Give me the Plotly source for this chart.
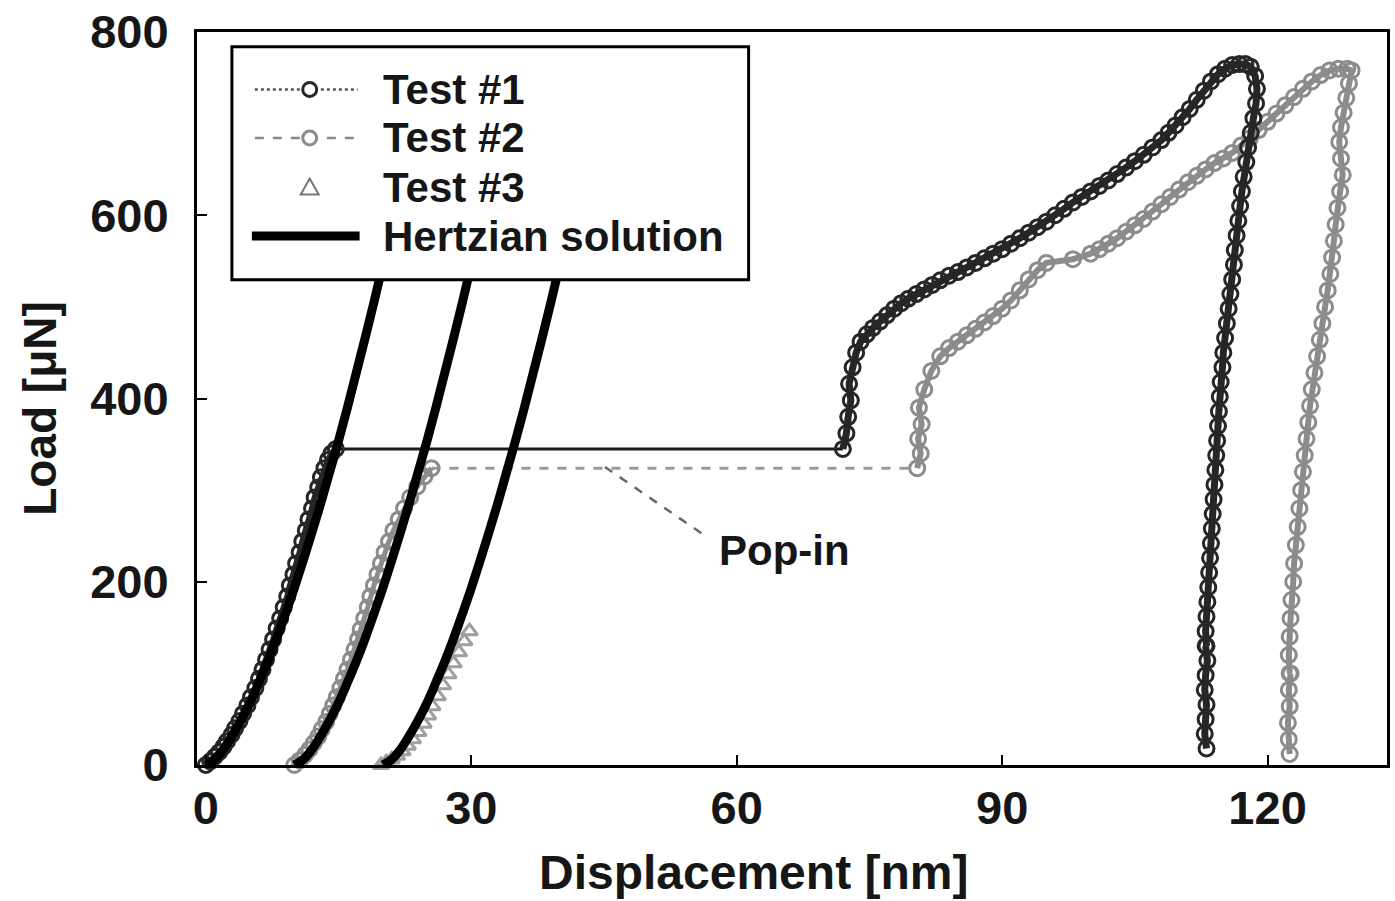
import plotly.graph_objects as go

# ---------------- data ----------------
# Test #1 : loading branch up to the pop-in
t1_load_disp = [0.0, 0.5, 1.0, 1.5, 2.0, 2.4, 2.9, 3.3, 3.8, 4.2, 4.7, 5.1, 5.6, 6.0, 6.4, 6.8, 7.2, 7.6,
                8.0, 8.4, 8.8, 9.2, 9.5, 9.9, 10.2, 10.6, 10.9, 11.3, 11.6, 12.0, 12.3, 12.7, 13.0,
                13.4, 13.8, 14.2, 14.7]
t1_load_load = [0, 4, 9, 14, 20, 26, 33, 40, 48, 56, 65, 74, 84, 94, 104, 115, 126, 137,
                149, 160, 172, 184, 196, 208, 220, 232, 244, 256, 268, 280, 292, 303, 314,
                324, 333, 340, 345]
# Test #1 : after the pop-in (re-loading, peak and unloading)
t1_after_disp = [72.0, 72.4, 72.6, 72.9, 72.7, 73.1, 73.5, 74.0, 74.7, 75.4, 76.2, 77.0, 77.8, 78.6,
                 79.4, 80.3, 81.2, 82.1, 83.0, 84.0, 85.0, 86.0, 87.0, 88.0, 89.0, 90.0, 91.0,
                 92.0, 93.0, 94.0, 95.0, 96.0, 97.0, 98.0, 99.0, 100.0, 101.0, 102.0, 103.0, 104.0,
                 105.0, 106.0, 107.0, 108.0, 108.8, 109.6, 110.4, 111.2, 112.0, 112.8, 113.6, 114.4,
                 115.2, 116.0, 116.8, 117.5, 118.1, 118.6, 118.8, 118.7, 118.4, 118.1, 117.8, 117.6,
                 117.3, 117.1, 116.9, 116.7, 116.5, 116.3, 116.2, 116.0, 115.8, 115.6, 115.4, 115.2,
                 115.0, 114.9, 114.7, 114.6, 114.5, 114.4, 114.3, 114.2, 114.1, 114.0, 113.9, 113.8,
                 113.7, 113.6, 113.5, 113.4, 113.3, 113.2, 113.1, 113.0, 113.1]
t1_after_load = [345, 362, 380, 398, 416, 434, 450, 462, 470, 477, 484, 491, 498, 504,
                 509, 514, 519, 524, 529, 534, 538, 543, 548, 553, 558, 563, 569,
                 575, 581, 587, 593, 600, 607, 614, 620, 626, 632, 638, 645, 652,
                 659, 666, 674, 682, 690, 698, 707, 716, 726, 736, 746, 754,
                 760, 764, 765, 765, 762, 752, 738, 722, 706, 690, 674, 658,
                 642, 626, 610, 594, 578, 562, 546, 530, 514, 498, 482, 466,
                 450, 434, 418, 402, 386, 370, 354, 338, 322, 306, 290, 274,
                 258, 242, 226, 210, 194, 178, 162, 146, 130]
t1_tail_disp = [113.0, 113.2, 113.0, 112.9, 113.1, 113.0, 112.9, 113.1]
t1_tail_load = [130, 114, 98, 82, 66, 50, 34, 18]

# Test #2 : loading branch up to the pop-in
t2_load_disp = [10.0, 10.6, 11.2, 11.7, 12.2, 12.7, 13.1, 13.6, 14.0, 14.4, 14.8, 15.2, 15.6, 16.0,
                16.4, 16.8, 17.2, 17.5, 17.9, 18.3, 18.6, 19.0, 19.4, 19.8, 20.2, 20.7, 21.2,
                21.8, 22.4, 23.1, 23.9, 24.7, 25.5]
t2_load_load = [0, 5, 11, 17, 24, 31, 39, 47, 56, 65, 74, 84, 94, 104,
                115, 126, 137, 148, 160, 172, 184, 196, 208, 220, 232, 244, 256,
                268, 280, 292, 304, 315, 324]
# Test #2 : after the pop-in
t2_after_disp = [80.4, 80.8, 80.5, 80.9, 80.6, 81.2, 82.0, 83.0, 84.0, 85.0, 86.0, 87.0, 88.0, 89.0,
                 90.0, 91.0, 92.0, 93.0, 94.0, 95.0, 98.0, 100.0, 101.0, 102.0, 103.0, 104.0,
                 105.0, 106.0, 107.0, 108.0, 109.0, 110.0, 111.0, 112.0, 113.0, 114.0, 115.0,
                 116.0, 117.0, 118.0, 119.0, 120.0, 121.0, 122.0, 123.0, 124.0, 125.0, 126.0,
                 127.0, 128.0, 129.0, 129.5, 129.2, 128.9, 128.6, 128.3, 128.1, 128.3, 128.5,
                 128.2, 127.9, 127.7, 127.5, 127.3, 127.1, 126.8, 126.5, 126.2, 125.9, 125.6,
                 125.3, 125.0, 124.8, 124.6, 124.4, 124.2, 124.0, 123.8, 123.6, 123.4, 123.2,
                 123.0, 122.9, 122.7, 122.6, 122.5, 122.4, 122.5]
t2_after_load = [324, 340, 356, 372, 390, 410, 430, 446, 455, 462, 469, 476, 483, 490,
                 498, 507, 518, 530, 540, 548, 552, 558, 563, 569, 575, 582,
                 589, 596, 604, 612, 620, 628, 636, 643, 650, 657, 662,
                 668, 676, 684, 693, 702, 711, 720, 729, 738, 746, 753,
                 758, 760, 760, 758, 744, 728, 712, 696, 680, 662, 644,
                 626, 608, 590, 572, 554, 536, 518, 500, 482, 464, 446,
                 428, 410, 392, 374, 356, 338, 320, 300, 280, 260, 240,
                 220, 200, 180, 160, 140, 120, 100]
t2_tail_disp = [122.6, 122.4, 122.5, 122.3, 122.4, 122.5]
t2_tail_load = [100, 82, 64, 46, 28, 12]

# Test #3 : loading only
t3_disp = [19.8, 20.4, 21.0, 21.6, 22.2, 22.8, 23.4, 24.0, 24.6, 25.1, 25.6, 26.2, 26.8,
           27.4, 28.0, 28.6, 29.2, 29.8]
t3_load = [0, 3, 6, 10, 15, 21, 28, 36, 45, 54, 64, 75, 87, 99, 111, 123, 135, 146]

# Hertzian solution curves (three offsets)
hz1_disp = [0, 1, 2, 3, 4, 5, 6, 7, 8, 9, 10, 11, 12, 13, 14, 15, 16, 17, 18, 19, 20, 21, 22]
hz1_load = [0, 6, 17, 32, 49, 68, 90, 113, 138, 165, 193, 223, 254, 286, 320, 354, 390, 428,
            466, 505, 546, 587, 630]
hz2_disp = [10, 11, 12, 13, 14, 15, 16, 17, 18, 19, 20, 21, 22, 23, 24, 25, 26, 27, 28, 29, 30, 31, 32]
hz2_load = hz1_load
hz3_disp = [20, 21, 22, 23, 24, 25, 26, 27, 28, 29, 30, 31, 32, 33, 34, 35, 36, 37, 38, 39, 40, 41, 42]
hz3_load = hz1_load

x_ticks = [0, 30, 60, 90, 120]
y_ticks = [0, 200, 400, 600, 800]
legend_names = ["Test #1", "Test #2", "Test #3", "Hertzian solution"]

# ---------------- style ----------------
FONT = "Liberation Sans, Arial, sans-serif"
TXT = "#161616"
C1 = "#262626"
C2 = "#8c8c8c"
C3 = "#a0a0a0"

fig = go.Figure()

# pop-in connectors (thin)
fig.add_trace(go.Scatter(x=[t1_load_disp[-1], t1_after_disp[0]], y=[t1_load_load[-1], t1_after_load[0]],
                         mode="lines", line=dict(color="#1a1a1a", width=3), showlegend=False))
fig.add_trace(go.Scatter(x=[t2_load_disp[-1], t2_after_disp[0]], y=[t2_load_load[-1], t2_after_load[0]],
                         mode="lines", line=dict(color="#9a9a9a", width=3, dash="dash"), showlegend=False))

def marker_trace(xs, ys, color, lw):
    return go.Scatter(x=xs, y=ys, mode="lines+markers", cliponaxis=False, showlegend=False,
                      line=dict(color=color, width=lw),
                      marker=dict(symbol="circle-open", size=15, color=color, line=dict(width=3, color=color)))

fig.add_trace(marker_trace(t2_load_disp, t2_load_load, C2, 5))
fig.add_trace(marker_trace(t2_after_disp, t2_after_load, C2, 6))
fig.add_trace(marker_trace(t2_tail_disp, t2_tail_load, C2, 6))
fig.add_trace(marker_trace(t1_load_disp, t1_load_load, C1, 6))
fig.add_trace(marker_trace(t1_after_disp, t1_after_load, C1, 7))
fig.add_trace(marker_trace(t1_tail_disp, t1_tail_load, C1, 7))
fig.add_trace(go.Scatter(x=t3_disp, y=t3_load, mode="markers", cliponaxis=False, showlegend=False,
                         marker=dict(symbol="triangle-up-open", size=14, color=C3, line=dict(width=3, color=C3))))

for hx, hy in [(hz1_disp, hz1_load), (hz2_disp, hz2_load), (hz3_disp, hz3_load)]:
    fig.add_trace(go.Scatter(x=hx, y=hy, mode="lines", line=dict(color="black", width=9, shape="spline"),
                             showlegend=False, cliponaxis=False))

# ---------------- manual legend (paper coordinates) ----------------
PL, PR, PT, PB = 197, 1390, 25, 765
def px(x):
    return (x - PL) / (PR - PL)
def py(y):
    return (PB - y) / (PB - PT)

shapes = []
shapes.append(dict(type="rect", xref="paper", yref="paper", x0=px(232), x1=px(750), y0=py(275), y1=py(40),
                   line=dict(color="black", width=3), fillcolor="white", layer="above"))
rows = [83, 132, 182, 231]
# Test 1 symbol
shapes.append(dict(type="line", xref="paper", yref="paper", x0=px(255), x1=px(358), y0=py(rows[0]), y1=py(rows[0]),
                   line=dict(color="#555", width=2.5, dash="dot"), layer="above"))
shapes.append(dict(type="circle", xref="paper", yref="paper", x0=px(303), x1=px(317), y0=py(rows[0] + 7), y1=py(rows[0] - 7),
                   line=dict(color=C1, width=3), fillcolor="white", layer="above"))
# Test 2 symbol
shapes.append(dict(type="line", xref="paper", yref="paper", x0=px(255), x1=px(358), y0=py(rows[1]), y1=py(rows[1]),
                   line=dict(color="#888", width=2.5, dash="dash"), layer="above"))
shapes.append(dict(type="circle", xref="paper", yref="paper", x0=px(303), x1=px(317), y0=py(rows[1] + 7), y1=py(rows[1] - 7),
                   line=dict(color=C2, width=3), fillcolor="white", layer="above"))
# Test 3 symbol (triangle)
tx, ty = 310, rows[2]
shapes.append(dict(type="path", xref="paper", yref="paper",
                   path=f"M {px(tx-9)},{py(ty+7)} L {px(tx+9)},{py(ty+7)} L {px(tx)},{py(ty-9)} Z",
                   line=dict(color="#777", width=2), fillcolor="white", layer="above"))
# Hertzian symbol
shapes.append(dict(type="line", xref="paper", yref="paper", x0=px(252), x1=px(360), y0=py(rows[3]), y1=py(rows[3]),
                   line=dict(color="black", width=9), layer="above"))

# Pop-in leader line
shapes.append(dict(type="line", xref="x", yref="y", x0=56.0, y0=253, x1=45.0, y1=326,
                   line=dict(color="#666", width=2.5, dash="dash")))

annotations = []
for name, r in zip(legend_names, rows):
    annotations.append(dict(xref="paper", yref="paper", x=px(381), y=py(r), xanchor="left", yanchor="middle",
                            text=name, showarrow=False,
                            font=dict(family=FONT, size=42, color=TXT, weight="bold")))
annotations.append(dict(xref="x", yref="y", x=65.4, y=234, text="Pop-in", showarrow=False,
                        font=dict(family=FONT, size=42, color=TXT, weight="bold")))
# axis titles
annotations.append(dict(xref="paper", yref="paper", x=px(755), y=py(874), xanchor="center", yanchor="middle",
                        text="Displacement [nm]", showarrow=False,
                        font=dict(family=FONT, size=48, color=TXT, weight="bold")))
annotations.append(dict(xref="paper", yref="paper", x=px(40), y=py(405), xanchor="center", yanchor="middle",
                        text="Load [μN]", textangle=-90, showarrow=False,
                        font=dict(family=FONT, size=46, color=TXT, weight="bold")))

fig.update_layout(
    width=1395, height=901,
    margin=dict(l=PL, r=1395 - PR, t=PT, b=901 - PB),
    paper_bgcolor="white", plot_bgcolor="white",
    showlegend=False,
    shapes=shapes, annotations=annotations,
    font=dict(family=FONT, color=TXT),
)
fig.update_xaxes(range=[-1, 133.5], tickvals=x_ticks, ticktext=[str(v) for v in x_ticks],
                 ticks="inside", ticklen=10, tickwidth=2, tickcolor="black",
                 showline=True, linecolor="black", linewidth=3, mirror=True,
                 showgrid=False, zeroline=False, ticklabeloverflow="allow",
                 tickfont=dict(family=FONT, size=47, color=TXT, weight="bold"), ticklabelstandoff=0)
fig.update_yaxes(range=[0, 800], tickvals=y_ticks, ticktext=[str(v) for v in y_ticks],
                 ticks="inside", ticklen=10, tickwidth=2, tickcolor="black",
                 showline=True, linecolor="black", linewidth=3, mirror=True,
                 showgrid=False, zeroline=False, ticklabeloverflow="allow",
                 tickfont=dict(family=FONT, size=47, color=TXT, weight="bold"), ticklabelstandoff=16)

fig.write_html("out.html")
